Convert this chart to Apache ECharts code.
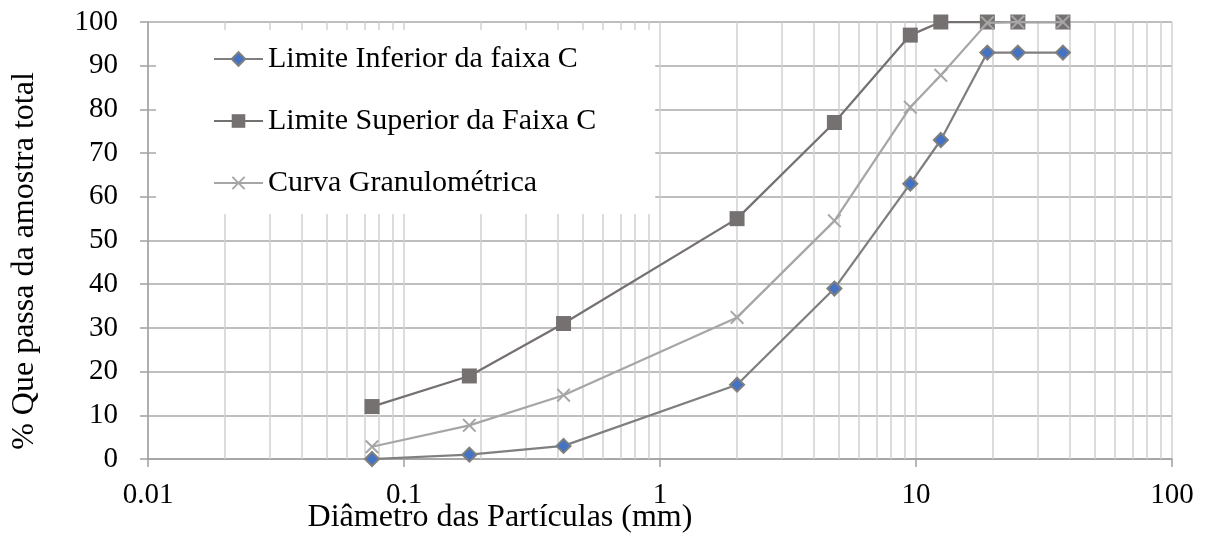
<!DOCTYPE html>
<html>
<head>
<meta charset="utf-8">
<style>
  html, body { margin: 0; padding: 0; background: #ffffff; }
  #chart { width: 1206px; height: 537px; }
</style>
<script src="https://cdn.jsdelivr.net/npm/echarts@6/dist/echarts.min.js"></script>
</head>
<body>
<div id="chart"></div>
<script>
// Sieve openings (mm)
const sieves = [0.075, 0.18, 0.42, 2.0, 4.8, 9.5, 12.5, 19, 25, 37.5];

// % passing
const lowerLimit = [0, 1, 3, 17, 39, 63, 73, 93, 93, 93];
const upperLimit = [12, 19, 31, 55, 77, 97, 100, 100, 100, 100];
const gradingCurve = [2.8, 7.7, 14.6, 32.4, 54.5, 80.5, 87.8, 99.8, 100, 100];

const seriesNames = [
  'Limite Inferior da faixa C',
  'Limite Superior da Faixa C',
  'Curva Granulométrica'
];

const xTickLabels = { 0.01: '0.01', 0.1: '0.1', 1: '1', 10: '10', 100: '100' };
const xAxisTitle = 'Diâmetro das Partículas (mm)';
const yAxisTitle = '% Que passa da amostra total';

// minor log gridlines at 2..9 of every decade
const minorLines = [];
[0.01, 0.1, 1, 10].forEach(function (d) {
  for (let k = 2; k <= 9; k++) minorLines.push({ xAxis: +(d * k).toPrecision(3) });
});

const pairs = arr => sieves.map((s, i) => [s, arr[i]]);

const FONT = 'Liberation Serif';
const crossSymbol = 'path://M0,1L1,0L5,4L9,0L10,1L6,5L10,9L9,10L5,6L1,10L0,9L4,5Z';

const chart = echarts.init(document.getElementById('chart'));
chart.setOption({
  animation: false,
  backgroundColor: '#ffffff',
  textStyle: { fontFamily: FONT, color: '#000000' },
  grid: { left: 148, right: 34, top: 22, bottom: 78 },
  legend: {
    orient: 'vertical',
    left: 156,
    top: 30,
    z: 10,
    data: seriesNames,
    backgroundColor: '#ffffff',
    padding: [14, 59, 16, 57],
    itemWidth: 49,
    itemHeight: 17,
    itemGap: 32,
    textStyle: { fontFamily: FONT, fontSize: 30, color: '#000000' }
  },
  xAxis: {
    type: 'log',
    logBase: 10,
    min: 0.01,
    max: 100,
    axisLine: { show: true, lineStyle: { color: '#a0a0a0', width: 1.5 } },
    axisTick: { show: true, length: 8, lineStyle: { color: '#a0a0a0', width: 1.5 } },
    axisLabel: {
      fontFamily: FONT, fontSize: 29, color: '#000000', margin: 22,
      formatter: v => xTickLabels[v] !== undefined ? xTickLabels[v] : String(v)
    },
    splitLine: { show: true, lineStyle: { color: '#d0d0d0', width: 1.5 } }
  },
  yAxis: {
    type: 'value',
    min: 0,
    max: 100,
    interval: 10,
    axisLine: { show: true, lineStyle: { color: '#a0a0a0', width: 1.5 } },
    axisTick: { show: true, length: 8, lineStyle: { color: '#a0a0a0', width: 1.5 } },
    axisLabel: { fontFamily: FONT, fontSize: 29, color: '#000000', margin: 30 },
    splitLine: { show: true, lineStyle: { color: '#a8a8a8', width: 1.5 } }
  },
  graphic: [
    {
      type: 'text',
      x: 500,
      y: 518,
      style: {
        text: xAxisTitle,
        align: 'center', verticalAlign: 'middle',
        font: '32px "Liberation Serif"',
        fill: '#000000'
      }
    },
    {
      type: 'text',
      x: 25,
      y: 261,
      rotation: Math.PI / 2,
      style: {
        text: yAxisTitle,
        align: 'center', verticalAlign: 'middle',
        font: '32px "Liberation Serif"',
        fill: '#000000'
      }
    }
  ],
  series: [
    {
      type: 'line',
      name: 'gridlines',
      data: [],
      silent: true,
      z: 1,
      markLine: {
        z: 1,
        silent: true,
        symbol: ['none', 'none'],
        label: { show: false },
        lineStyle: { color: '#d0d0d0', width: 1.5, type: 'solid' },
        data: minorLines
      }
    },
    {
      name: seriesNames[0],
      type: 'line',
      z: 3,
      data: pairs(lowerLimit),
      symbol: 'diamond',
      symbolSize: 14,
      lineStyle: { color: '#7f7f7f', width: 2.25 },
      itemStyle: { color: '#4472c4', borderColor: '#7f7f7f', borderWidth: 2 }
    },
    {
      name: seriesNames[1],
      type: 'line',
      z: 4,
      data: pairs(upperLimit),
      symbol: 'rect',
      symbolSize: 15,
      lineStyle: { color: '#767171', width: 2.25 },
      itemStyle: { color: '#767171', borderColor: '#767171', borderWidth: 0 }
    },
    {
      name: seriesNames[2],
      type: 'line',
      z: 5,
      data: pairs(gradingCurve),
      symbol: crossSymbol,
      symbolSize: 14,
      lineStyle: { color: '#a6a6a6', width: 2.25 },
      itemStyle: { color: '#a6a6a6', borderWidth: 0 }
    }
  ]
});
</script>
</body>
</html>
